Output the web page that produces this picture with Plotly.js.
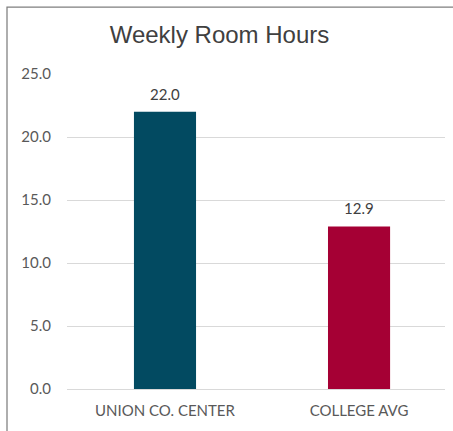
<!DOCTYPE html>
<html>
<head>
<meta charset="utf-8">
<script src="https://cdn.plot.ly/plotly-3.0.1.min.js"></script>
<style>
  html, body { margin: 0; padding: 0; background: #ffffff; }
  #chart { width: 453px; height: 431px; }
</style>
</head>
<body>
<div id="chart"></div>
<script>
// ---- Data ----
const categories = ["UNION CO. CENTER", "COLLEGE AVG"];
const hours = [22.0, 12.9];
const barColors = ["#024A61", "#A50034"];
const yTickVals = [0, 5, 10, 15, 20, 25];
const yTickText = ["0.0", "5.0", "10.0", "15.0", "20.0", "25.0"];
const chartTitle = "Weekly Room Hours";

const trace = {
  type: "bar",
  x: categories,
  y: hours,
  marker: { color: barColors, line: { width: 0 } },
  hoverinfo: "none"
};

const annotations = categories.map((c, i) => ({
  x: c,
  y: hours[i],
  xref: "x",
  yref: "y",
  text: hours[i].toFixed(1),
  showarrow: false,
  yanchor: "bottom",
  xanchor: "center",
  yshift: 7,
  font: { family: "Lato, 'Open Sans', sans-serif", size: 15, color: "#404040" }
}));

const layout = {
  width: 453,
  height: 431,
  margin: { l: 67, r: 8, t: 74, b: 42, pad: 0 },
  paper_bgcolor: "#ffffff",
  plot_bgcolor: "#ffffff",
  showlegend: false,
  bargap: 0.68,
  title: {
    text: chartTitle,
    x: 0.4845,
    xref: "container",
    xanchor: "center",
    y: 1 - 35 / 431,
    yref: "container",
    yanchor: "middle",
    font: { family: "'Liberation Sans', Arial, sans-serif", size: 24, color: "#404040" }
  },
  xaxis: {
    type: "category",
    range: [-0.505, 1.443],
    showgrid: false,
    zeroline: false,
    showline: false,
    ticks: "",
    ticklabelstandoff: 11,
    tickfont: { family: "Lato, 'Open Sans', sans-serif", size: 15, color: "#595959" },
    fixedrange: true
  },
  yaxis: {
    range: [0, 25],
    tickvals: yTickVals,
    ticktext: yTickText,
    showgrid: true,
    gridcolor: "#d9d9d9",
    gridwidth: 1,
    zeroline: true,
    zerolinecolor: "#d9d9d9",
    zerolinewidth: 1,
    showline: false,
    ticks: "",
    ticklabelstandoff: 15,
    tickfont: { family: "Lato, 'Open Sans', sans-serif", size: 15, color: "#595959" },
    fixedrange: true
  },
  annotations: annotations,
  shapes: [{
    type: "rect",
    xref: "paper",
    yref: "paper",
    x0: (7 - 67) / 378,
    x1: (460 - 67) / 378,
    y0: (389 - 445) / 315,
    y1: (389 - 7) / 315,
    line: { color: "#7f7f7f", width: 1.25 },
    fillcolor: "rgba(0,0,0,0)",
    layer: "below"
  }]
};

Plotly.newPlot("chart", [trace], layout, { displayModeBar: false, staticPlot: true });
</script>
</body>
</html>
